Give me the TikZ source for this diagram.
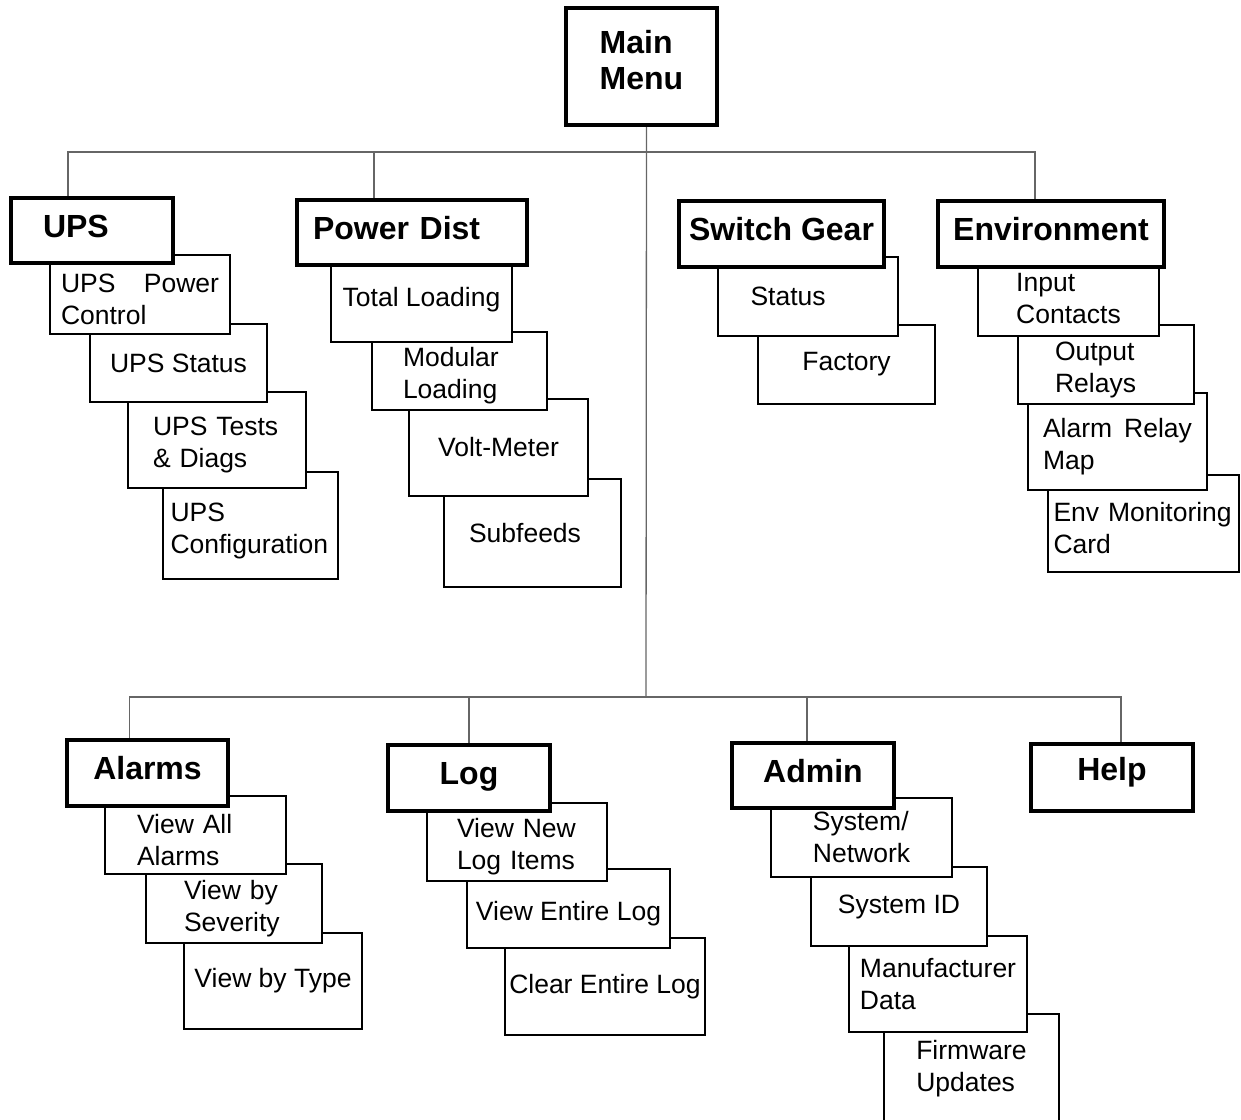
\documentclass[tikz,border=0pt]{standalone}
\usepackage{fontspec}
\setmainfont{Liberation Sans}
\usetikzlibrary{positioning}
\pgfdeclarelayer{background}
\pgfdeclarelayer{lv4}
\pgfdeclarelayer{lv3}
\pgfdeclarelayer{lv2}
\pgfdeclarelayer{lv1}
\pgfsetlayers{background,lv4,lv3,lv2,lv1,main}
\tikzstyle{menu} = [rectangle, draw=black, line width=4.8pt, fill=white, outer sep=0pt, inner sep=0pt, font=\bfseries\fontsize{32}{36}\selectfont, align=left]
\tikzstyle{head} = [menu, align=center, text height=23pt, text depth=10pt, minimum width=162pt, minimum height=65pt, anchor=north west]
\tikzstyle{item} = [rectangle, draw=black, line width=2.2pt, fill=white, outer sep=0pt, inner sep=0pt, font=\fontsize{26.5}{32}\selectfont, align=left, minimum width=178pt, minimum height=79pt]
\tikzstyle{low} = [item, execute at begin node={\rule{0pt}{29pt}}]
\tikzstyle{conn} = [draw, line width=1.3pt, black!60]

\begin{document}
\begin{tikzpicture}[x=1pt, y=1pt]
\useasboundingbox (0,0) rectangle (1241,-1119);

% menus =============================

\node[menu, minimum width=151pt, minimum height=117pt, anchor=north west] (main) at (566,-8) {Main\\Menu\rule[-14pt]{0pt}{14pt}};

% upper row
\node[head, text width=98pt, align=left] (ups) at (11,-198) {UPS};
\node[head, minimum width=230pt, text width=198pt, align=left] (pdist) at (297,-200) {Power Dist};
\node[head, minimum width=205pt, minimum height=66pt] (swgear) at (679,-201) {Switch Gear};
\node[head, minimum width=226pt, minimum height=66pt] (env) at (938,-201) {Environment};

% lower row
\node[head, minimum width=161pt, minimum height=66pt] (alarms) at (67,-740) {Alarms};
\node[head, minimum height=66pt] (log) at (388,-745) {Log};
\node[head] (admin) at (732,-743) {Admin};
\node[head, minimum height=67pt, text depth=18pt] (help) at (1031,-744) {Help};

% first items
\begin{pgfonlayer}{lv1}
\node[low, minimum width=180pt, text width=158pt, below right=-8pt and 39pt of ups.south west] (upspower) {UPS\hfill Power\\Control};
\node[item, minimum width=181pt, minimum height=84pt, below right=-7pt and 34pt of pdist.south west] (total) {Total Loading};
\node[item, minimum width=180pt, text width=115pt, below right=-10pt and 39pt of swgear.south west] (status) {Status};
\node[item, minimum width=181pt, minimum height=74pt, below right=-5pt and 40pt of env.south west] (input) {Input\\Contacts};
\node[low, minimum width=181pt, minimum height=78pt, text width=117pt, below right=-10pt and 38pt of alarms.south west] (viewall) {View All\\Alarms};
\node[low, minimum width=180pt, minimum height=78pt, text width=120pt, below right=-8pt and 39pt of log.south west] (newlog) {View New\\Log Items};
\node[item, minimum width=181pt, below right=-10pt and 39pt of admin.south west] (sysnet) {System/\\Network};
\end{pgfonlayer}

% second items
\begin{pgfonlayer}{lv2}
\node[item, minimum width=177pt, minimum height=78pt, below right=-10pt and 40pt of upspower.south west] (upsstatus) {UPS Status};
\node[low, minimum width=175pt, minimum height=78pt, text width=113pt, below right=-10pt and 41pt of total.south west] (modular) {Modular\\Loading};
\node[item, minimum width=177pt, below right=-11pt and 40pt of status.south west] (factory) {Factory};
\node[low, minimum width=176pt, text width=102pt, below right=-11pt and 40pt of input.south west] (output) {Output\\Relays};
\node[low, minimum width=176pt, text width=100pt, below right=-10pt and 41pt of viewall.south west] (severity) {View by\\Severity};
\node[low, minimum width=203pt, below right=-12pt and 40pt of newlog.south west] (entire) {View Entire Log};
\node[item, minimum width=176pt, below right=-10pt and 40pt of sysnet.south west] (sysid) {System ID};
\end{pgfonlayer}

% third items
\begin{pgfonlayer}{lv3}
\node[low, minimum height=96pt, text width=128pt, below right=-10pt and 38pt of upsstatus.south west] (upstest) {UPS Tests\\\& Diags};
\node[item, minimum width=179pt, minimum height=97pt, below right=-11pt and 37pt of modular.south west] (volt) {Volt-Meter};
\node[low, minimum width=179pt, minimum height=97pt, text width=149pt, below right=-11pt and 10pt of output.south west] (relay) {Alarm\hfill Relay\\Map};
\node[item, minimum height=96pt, below right=-10pt and 38pt of severity.south west] (type) {View by Type};
\node[item, minimum width=200pt, minimum height=97pt, below right=-10pt and 38pt of entire.south west] (clear) {Clear Entire Log};
\node[item, minimum height=96pt, below right=-10pt and 38pt of sysid.south west] (manuf) {Manufacturer\\Data};
\end{pgfonlayer}

% fourth items
\begin{pgfonlayer}{lv4}
\node[low, minimum width=175pt, minimum height=107pt, text width=160pt, below right=-16pt and 35pt of upstest.south west] (upsconf) {UPS\\Configuration};
\node[item, minimum width=177pt, minimum height=108pt, text width=127pt, below right=-17pt and 35pt of volt.south west] (subfeeds) {Subfeeds};
\node[low, minimum width=191pt, minimum height=97pt, text width=180pt, below right=-15pt and 20pt of relay.south west] (envmon) {Env Monitoring\\Card};
\node[item, minimum width=175pt, minimum height=110pt, below right=-18pt and 35pt of manuf.south west] (firmware) {Firmware\\Updates};
\end{pgfonlayer}

%edges
\begin{pgfonlayer}{background}
\coordinate (bus1) at (646,-152);
\coordinate (bus2) at (646,-697);
\path[conn] ([xshift=5pt]main.south) -- (bus2);
\path[conn] ([xshift=-24pt]ups.north) |- (bus1) -| ([xshift=-16pt]env.north);
\path[conn] ([xshift=-38pt]pdist.north) -- ([xshift=-38pt]pdist.north |- bus1);
\path[conn] ([xshift=-18pt]alarms.north) |- (bus2) -| ([xshift=9pt]help.north);
\path[conn] (log.north) -- (log.north |- bus2);
\path[conn] ([xshift=-6pt]admin.north) -- ([xshift=-6pt]admin.north |- bus2);
\end{pgfonlayer}

\end{tikzpicture}
\end{document}
